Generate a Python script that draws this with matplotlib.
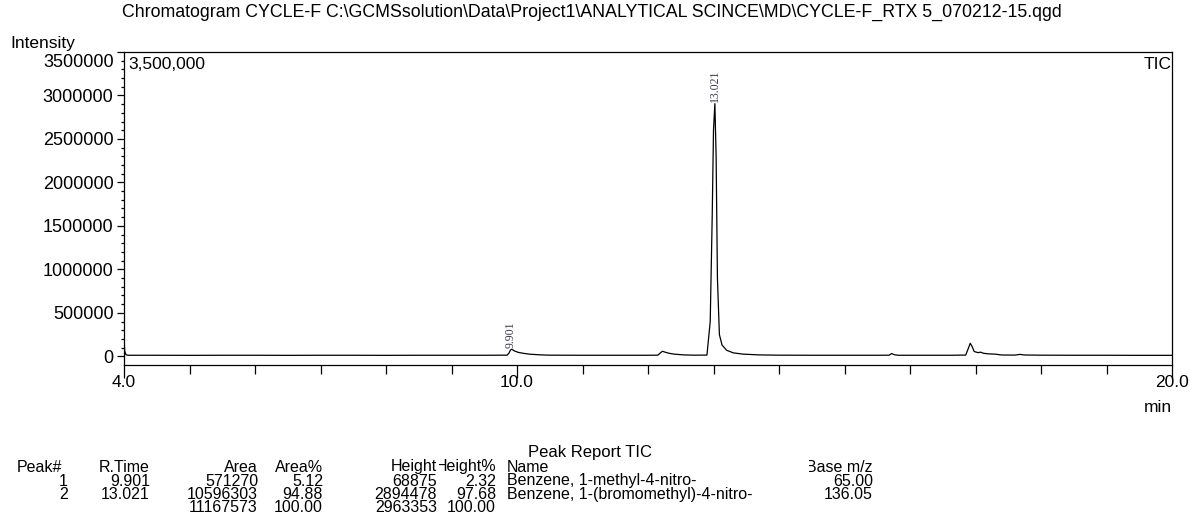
import numpy as np
import matplotlib
matplotlib.use("Agg")
import matplotlib.pyplot as plt
from matplotlib.ticker import FixedLocator, FuncFormatter
from matplotlib.transforms import Bbox, TransformedBbox

W, H = 1190, 532

# TIC trace, retention time (min) vs intensity
rt_min = [4.00, 4.01, 4.03, 4.06, 4.5, 5.0, 5.5, 6.0, 6.5, 7.0, 7.5, 8.0, 8.5,
          9.0, 9.5, 9.85, 9.88, 9.90, 9.92, 9.96, 10.02, 10.10, 10.20, 10.35,
          10.5, 11.0, 11.5, 12.0, 12.15, 12.19, 12.22, 12.26, 12.32, 12.40,
          12.55, 12.70, 12.90, 12.95, 12.98, 13.00, 13.021, 13.04, 13.06,
          13.09, 13.13, 13.20, 13.30, 13.45, 13.7, 14.0, 14.5, 15.0, 15.5,
          15.68, 15.72, 15.76, 15.82, 16.2, 16.6, 16.85, 16.89, 16.92, 16.95,
          16.98, 17.04, 17.08, 17.12, 17.20, 17.30, 17.40, 17.60, 17.68,
          17.75, 18.0, 18.5, 19.0, 19.5, 20.0]
tic = [270000, 60000, 18000, 12000, 12000, 11000, 12000, 12000, 11000, 12000,
       12000, 11000, 12000, 12000, 12000, 13000, 40000, 72000, 81000, 62000,
       45000, 34000, 24000, 17000, 13000, 12000, 12000, 12000, 13000, 40000,
       58000, 48000, 35000, 25000, 16000, 13000, 14000, 400000, 1600000,
       2600000, 2906000, 2300000, 900000, 250000, 130000, 70000, 40000, 25000,
       16000, 13000, 12000, 12000, 12000, 13000, 32000, 18000, 12000, 12000,
       12000, 14000, 90000, 150000, 110000, 55000, 42000, 48000, 35000, 28000,
       25000, 15000, 14000, 22000, 15000, 13000, 12000, 12000, 11000, 11000]

# peak report
peak_no = ["1", "2"]
peak_rt = [9.901, 13.021]
peak_area = [571270, 10596303]
peak_area_pct = [5.12, 94.88]
peak_height = [68875, 2894478]
peak_height_pct = [2.32, 97.68]
peak_name = ["Benzene, 1-methyl-4-nitro-", "Benzene, 1-(bromomethyl)-4-nitro-"]
peak_base_mz = [65.00, 136.05]
total_area = 11167573
total_height = 2963353

title = ("Chromatogram CYCLE-F C:\\GCMSsolution\\Data\\Project1\\ANALYTICAL "
         "SCINCE\\MD\\CYCLE-F_RTX 5_070212-15.qgd")

plt.rcParams['font.family'] = ['Liberation Sans', 'DejaVu Sans']


def fx(px):
    return px / W


def fy(py):
    return 1 - py / H


fig = plt.figure(figsize=(W / 100, H / 100), dpi=100)
ax = fig.add_axes([fx(124), fy(365), (1172 - 124) / W, (365 - 52) / H])

ax.plot(rt_min, tic, color="black", lw=0.9)
ax.set_xlim(4.0, 20.0)
ax.set_ylim(-100000, 3500000)

for sp in ax.spines.values():
    sp.set_linewidth(0.9)

ymax = 3500000
ax.xaxis.set_major_locator(FixedLocator([4.0, 10.0, 20.0]))
ax.xaxis.set_minor_locator(FixedLocator(np.arange(5, 20)))
ax.xaxis.set_major_formatter(FuncFormatter(lambda v, p: "%.1f" % v))
ax.yaxis.set_major_locator(FixedLocator(np.arange(0, ymax + 1, 500000)))
ax.yaxis.set_minor_locator(FixedLocator(np.arange(0, ymax + 1, 100000)))
# the top value is printed separately, dropped just under the frame
ax.yaxis.set_major_formatter(
    FuncFormatter(lambda v, p: "" if v >= ymax else "%d" % v))
ax.tick_params(axis="x", which="major", direction="out", length=9.5, width=0.9,
               labelsize=12.5, pad=-2.5)
ax.tick_params(axis="x", which="minor", direction="out", length=6.5, width=0.9)
ax.tick_params(axis="y", which="major", direction="out", length=5, width=0.9,
               labelsize=13, pad=2.5)
ax.tick_params(axis="y", which="minor", direction="out", length=2.5, width=0.9)
ax.annotate("%d" % ymax, (0, 1), xycoords="axes fraction", xytext=(-7.5, -1.5),
            textcoords="offset points", ha="right", va="top", fontsize=13)

# retention time labels on the peaks
t_arr = np.array(rt_min)
y_arr = np.array(tic)
for rt in peak_rt:
    win = np.abs(t_arr - rt) < 0.05
    top = y_arr[win].max()
    ax.annotate("%.3f" % rt, (rt, top), xytext=(0, 1), textcoords="offset points",
                rotation=90, ha="center", va="bottom", fontsize=8.5,
                family=["Liberation Serif", "DejaVu Serif"], color="#3a3a4a")

ax.text(0.004, 0.985, "3,500,000", transform=ax.transAxes, ha="left", va="top",
        fontsize=12.5)
ax.text(1.0, 0.985, "TIC", transform=ax.transAxes, ha="right", va="top",
        fontsize=12.5)

fig.text(fx(122), fy(12), title, ha="left", va="center", fontsize=12.8)
fig.text(fx(10), fy(44), "Intensity", ha="left", va="center", fontsize=12.5)
fig.text(fx(1172), fy(408), "min", ha="right", va="center", fontsize=12.5)

# peak report table
fs = 11.5
fig.text(fx(590), fy(452), "Peak Report TIC", ha="center", va="center",
         fontsize=fs + 0.5)

col_right = [68, 150, 258, 323, 437, 496]
row_y = [467, 481, 494.5, 508]


def cell(x, y, s, ha="right", clip_left=None):
    t = fig.text(fx(x), fy(y), s, ha=ha, va="center", fontsize=fs)
    if clip_left is not None:
        box = Bbox.from_extents(fx(clip_left), 0, 1, 1)
        t.set_clip_box(TransformedBbox(box, fig.transFigure))
        t.set_clip_on(True)
    return t


cell(17, row_y[0], "Peak#", ha="left")
cell(col_right[1], row_y[0], "R.Time")
cell(col_right[2], row_y[0], "Area")
cell(col_right[3], row_y[0], "Area%")
cell(col_right[4], row_y[0], "Height")
cell(col_right[5], row_y[0], "Height%", clip_left=col_right[4] + 1.5)
cell(507, row_y[0], "Name", ha="left")
cell(873, row_y[0], "Base m/z", clip_left=809)

for i in range(len(peak_no)):
    y = row_y[i + 1]
    cell(col_right[0], y, peak_no[i])
    cell(col_right[1], y, "%.3f" % peak_rt[i])
    cell(col_right[2], y, "%d" % peak_area[i])
    cell(col_right[3], y, "%.2f" % peak_area_pct[i])
    cell(col_right[4], y, "%d" % peak_height[i])
    cell(col_right[5], y, "%.2f" % peak_height_pct[i])
    cell(507, y, peak_name[i], ha="left")
    cell(873, y, "%.2f" % peak_base_mz[i])

cell(col_right[2], row_y[3], "%d" % total_area)
cell(col_right[3], row_y[3], "%.2f" % 100.0)
cell(col_right[4], row_y[3], "%d" % total_height)
cell(col_right[5], row_y[3], "%.2f" % 100.0)

fig.savefig("out.png", dpi=100)
